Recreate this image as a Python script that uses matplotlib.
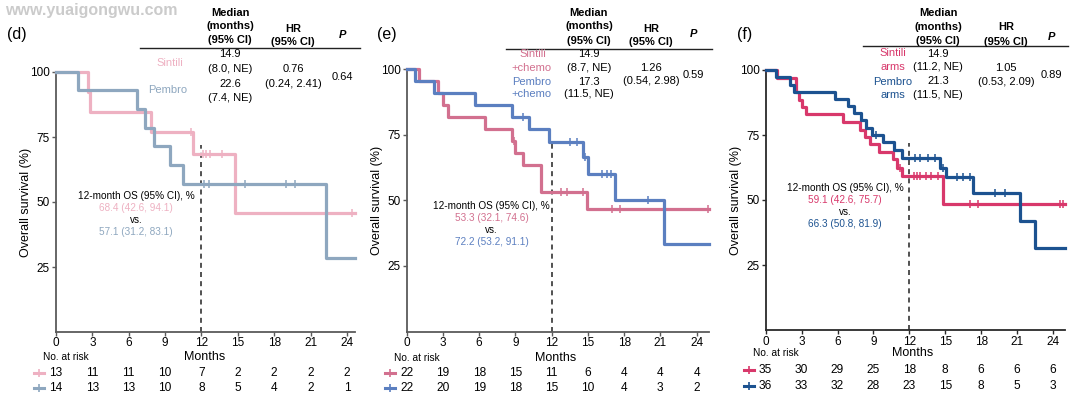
import matplotlib
matplotlib.use("Agg")
import matplotlib.pyplot as plt
from matplotlib.lines import Line2D
import numpy as np

plt.rcParams["font.family"] = ["Liberation Sans", "DejaVu Sans"]

W, H = 1080, 397

# ---------------------------------------------------------------------------
# data
# ---------------------------------------------------------------------------
months = [0, 3, 6, 9, 12, 15, 18, 21, 24]
yticks = [25, 50, 75, 100]

# (d) Sintili vs Pembro
d_sin_t = [0, 2.6, 2.8, 7.8, 11.3, 14.8, 24.7]
d_sin_s = [100, 92.3, 84.6, 76.9, 68.4, 45.6, 45.6]
d_sin_cens = [11.1, 12.1, 12.4, 12.7, 13.7, 24.4]
d_pem_t = [0, 1.8, 6.65, 7.35, 8.05, 9.4, 10.45, 22.3, 24.7]
d_pem_s = [100, 92.9, 85.7, 78.6, 71.4, 64.3, 57.1, 28.6, 28.6]
d_pem_cens = [12.2, 12.65, 15.6, 19.0, 19.7]
d_risk_sin = [13, 11, 11, 10, 7, 2, 2, 2, 2]
d_risk_pem = [14, 13, 13, 10, 8, 5, 4, 2, 1]

# (e) Sintili+chemo vs Pembro+chemo
e_sin_t = [0, 1.05, 2.55, 3.0, 3.45, 6.5, 8.7, 8.95, 9.65, 11.15, 14.9, 25.0]
e_sin_s = [100, 95.5, 90.9, 86.4, 81.8, 77.3, 72.7, 68.2, 63.6, 53.3, 46.7, 46.7]
e_sin_cens = [8.85, 12.8, 13.25, 14.6, 17.0, 17.65, 24.95]
e_pem_t = [0, 0.7, 2.25, 5.65, 8.7, 10.15, 11.8, 14.6, 15.0, 17.25, 21.3, 25.0]
e_pem_s = [100, 95.5, 90.9, 86.4, 81.8, 77.1, 72.2, 66.4, 60.2, 50.2, 33.5, 33.5]
e_pem_cens = [9.6, 13.5, 14.1, 14.8, 16.2, 16.6, 16.95, 20.0]
e_risk_sin = [22, 19, 18, 15, 11, 6, 4, 4, 4]
e_risk_pem = [22, 20, 19, 18, 15, 10, 4, 3, 2]

# (f) Sintili arms vs Pembro arms
f_sin_t = [0, 0.95, 2.55, 2.8, 3.05, 3.4, 6.45, 7.85, 8.3, 8.7, 9.5, 10.6,
           11.0, 11.4, 14.85, 25.0]
f_sin_s = [100, 97.1, 91.4, 88.6, 85.7, 82.9, 80.0, 77.1, 74.3, 71.4, 68.6,
           65.7, 62.4, 59.1, 48.4, 48.4]
f_sin_cens = [11.2, 12.35, 12.65, 12.9, 13.4, 13.85, 14.4, 17.05, 17.7, 24.6, 24.85]
f_pem_t = [0, 0.9, 2.0, 2.4, 5.8, 6.9, 7.4, 8.0, 8.4, 8.85, 9.8, 10.7, 11.4,
           14.55, 15.1, 17.3, 21.25, 22.5, 25.0]
f_pem_s = [100, 97.2, 94.4, 91.7, 88.9, 86.1, 83.3, 80.6, 77.8, 75.0, 72.2,
           69.4, 66.3, 62.5, 58.7, 52.7, 41.9, 31.6, 31.6]
f_pem_cens = [9.2, 12.45, 12.9, 13.6, 14.15, 14.8, 15.95, 16.5, 17.05, 19.15, 20.0]
f_risk_sin = [35, 30, 29, 25, 18, 8, 6, 6, 6]
f_risk_pem = [36, 33, 32, 28, 23, 15, 8, 5, 3]


def px(x, y):
    return x / W, 1 - y / H


def km(ax, t, s, cens, color):
    ax.step(t, s, where="post", color=color, lw=2.3, clip_on=False, zorder=3)
    idx = np.searchsorted(t, cens, side="right") - 1
    ax.plot(cens, np.asarray(s)[idx], ls="none", marker="|", ms=6, mew=1.1,
            color=color, clip_on=False, zorder=4)


fig = plt.figure(figsize=(W / 100, H / 100), dpi=100)

fig.text(*px(5, 11), "www.yuaigongwu.com", fontsize=11.5, fontweight="bold",
         color="#cbcbcb", va="center", ha="left")

panels = [
    dict(label="(d)", lab_x=17, left=56, y0=332, y100=72, ppm=12.12, xmax=24.7,
         spine="#5a5a5a",
         sin=(d_sin_t, d_sin_s, d_sin_cens), pem=(d_pem_t, d_pem_s, d_pem_cens),
         c_sin="#eeb1c2", c_pem="#8ea7bf",
         risk=(d_risk_sin, d_risk_pem), risk_y=(357, 372.7, 388.3), tick_y=343,
         ann_x=136, ann_y=(196, 208, 220, 232),
         ann=("68.4 (42.6, 94.1)", "57.1 (31.2, 83.1)"),
         head=dict(med=230, hr=293, p=342, line=(140, 360, 48), names=[("Sintili", 170, 63), ("Pembro", 168, 90)],
                   vals=[("14.9", 54), ("(8.0, NE)", 69), ("22.6", 84), ("(7.4, NE)", 98)],
                   hr_vals=("0.76", "(0.24, 2.41)"), hr_y=(69, 84), pv="0.64", pv_y=77,
                   top=(13, 26, 40), hr_top=(29, 42), p_y=35)),
    dict(label="(e)", lab_x=387, left=406.7, y0=331.5, y100=69.3, ppm=12.08, xmax=25.0,
         spine="#5a5a5a",
         sin=(e_sin_t, e_sin_s, e_sin_cens), pem=(e_pem_t, e_pem_s, e_pem_cens),
         c_sin="#d2708f", c_pem="#5b7fc0",
         risk=(e_risk_sin, e_risk_pem), risk_y=(358, 373, 388), tick_y=343,
         ann_x=491.7, ann_y=(206, 218, 230, 242),
         ann=("53.3 (32.1, 74.6)", "72.2 (53.2, 91.1)"),
         head=dict(med=589, hr=651, p=693, line=(506, 712, 49),
                   names=[("Sintili", 533, 54), ("+chemo", 531, 68), ("Pembro", 532, 82), ("+chemo", 531, 94)],
                   vals=[("14.9", 54), ("(8.7, NE)", 68), ("17.3", 82), ("(11.5, NE)", 94)],
                   hr_vals=("1.26", "(0.54, 2.98)"), hr_y=(68, 81), pv="0.59", pv_y=75,
                   top=(13, 26, 41), hr_top=(29, 42), p_y=34)),
    dict(label="(f)", lab_x=745, left=765.7, y0=330, y100=70, ppm=11.97, xmax=25.0,
         spine="#2a2a2a",
         sin=(f_sin_t, f_sin_s, f_sin_cens), pem=(f_pem_t, f_pem_s, f_pem_cens),
         c_sin="#d8386b", c_pem="#1c5290",
         risk=(f_risk_sin, f_risk_pem), risk_y=(353, 370, 385.7), tick_y=341.7,
         ann_x=845, ann_y=(188, 200, 212, 224),
         ann=("59.1 (42.6, 75.7)", "66.3 (50.8, 81.9)"),
         head=dict(med=938, hr=1006, p=1051, line=(863, 1068, 46),
                   names=[("Sintili", 893, 53), ("arms", 893, 67), ("Pembro", 893, 82), ("arms", 893, 95)],
                   vals=[("14.9", 54), ("(11.2, NE)", 67), ("21.3", 81), ("(11.5, NE)", 95)],
                   hr_vals=("1.05", "(0.53, 2.09)"), hr_y=(68, 82), pv="0.89", pv_y=75,
                   top=(13, 27, 41), hr_top=(27, 42), p_y=37)),
]

for p in panels:
    width = p["xmax"] * p["ppm"]
    x0, yb = px(p["left"], p["y0"])
    _, yt = px(p["left"], p["y100"])
    ax = fig.add_axes([x0, yb, width / W, yt - yb])
    ax.set_xlim(0, p["xmax"])
    ax.set_ylim(0, 100)
    for side in ("top", "right"):
        ax.spines[side].set_visible(False)
    for side in ("left", "bottom"):
        ax.spines[side].set_color(p["spine"])
        ax.spines[side].set_linewidth(1.3)
    ax.set_xticks(months)
    ax.set_yticks(yticks)
    ax.tick_params(axis="both", length=3, width=1, color=p["spine"], labelsize=8.5, pad=1.5)
    ax.set_xticklabels([])
    ax.patch.set_alpha(0)

    # x tick labels at measured height
    for m in months:
        xf = (p["left"] + m * p["ppm"]) / W
        fig.text(xf, px(0, p["tick_y"])[1], str(m), fontsize=8.5, ha="center", va="center")

    ax.plot([12, 12], [0, 72], ls=(0, (3, 2.5)), color="#333333", lw=1.2, zorder=2)
    km(ax, *p["sin"], p["c_sin"])
    km(ax, *p["pem"], p["c_pem"])

    fig.text(*px(p["lab_x"], 35), p["label"], fontsize=11.5, ha="center", va="center")
    fig.text(*px(p["left"] - 30, (p["y0"] + p["y100"]) / 2), "Overall survival (%)",
             fontsize=9, rotation=90, ha="center", va="center")

    # 12-month OS annotation
    ax_, (ya, yp, yv, yq) = p["ann_x"], p["ann_y"]
    fig.text(*px(ax_, ya), "12-month OS (95% CI), %", fontsize=7.2, ha="center", va="center")
    fig.text(*px(ax_, yp), p["ann"][0], fontsize=7.2, color=p["c_sin"], ha="center", va="center")
    fig.text(*px(ax_, yv), "vs.", fontsize=7.2, ha="center", va="center")
    fig.text(*px(ax_, yq), p["ann"][1], fontsize=7.2, color=p["c_pem"], ha="center", va="center")

    # risk table
    ry_lab, ry1, ry2 = p["risk_y"]
    fig.text(*px(p["left"] + 10, ry_lab), "No. at risk", fontsize=7.3, ha="center", va="center")
    fig.text(*px(p["left"] + 12.3 * p["ppm"], ry_lab), "Months", fontsize=9, ha="center", va="center")
    for row, ry, col in ((p["risk"][0], ry1, p["c_sin"]), (p["risk"][1], ry2, p["c_pem"])):
        for m, n in zip(months, row):
            fig.text(*px(p["left"] + m * p["ppm"], ry), str(n), fontsize=8.6, ha="center", va="center")
        mx = p["left"] - 17
        xa, ya2 = px(mx - 5, ry)
        xb, _ = px(mx + 5, ry)
        fig.add_artist(Line2D([xa, xb], [ya2, ya2], color=col, lw=2.2, transform=fig.transFigure))
        xc, yc = px(mx, ry)
        fig.add_artist(Line2D([xc], [yc], marker="|", ms=6, mew=1.2, color=col, ls="none",
                              transform=fig.transFigure))

    # header table
    hd = p["head"]
    for txt, yy in zip(("Median", "(months)", "(95% CI)"), hd["top"]):
        fig.text(*px(hd["med"], yy), txt, fontsize=8, fontweight="bold", ha="center", va="center")
    for txt, yy in zip(("HR", "(95% CI)"), hd["hr_top"]):
        fig.text(*px(hd["hr"], yy), txt, fontsize=8, fontweight="bold", ha="center", va="center")
    fig.text(*px(hd["p"], hd["p_y"]), "P", fontsize=8, fontweight="bold", style="italic",
             ha="center", va="center")
    lx0, lx1, ly = hd["line"]
    a, b = px(lx0, ly)
    c, _ = px(lx1, ly)
    fig.add_artist(Line2D([a, c], [b, b], color="#222222", lw=1.0, transform=fig.transFigure))
    n_names = len(hd["names"])
    for i, (txt, xx, yy) in enumerate(hd["names"]):
        col = p["c_sin"] if i < n_names / 2 else p["c_pem"]
        fig.text(*px(xx, yy), txt, fontsize=8, color=col, ha="center", va="center")
    for txt, yy in hd["vals"]:
        fig.text(*px(hd["med"], yy), txt, fontsize=8, ha="center", va="center")
    for txt, yy in zip(hd["hr_vals"], hd["hr_y"]):
        fig.text(*px(hd["hr"], yy), txt, fontsize=8, ha="center", va="center")
    fig.text(*px(hd["p"], hd["pv_y"]), hd["pv"], fontsize=8, ha="center", va="center")

fig.savefig("out.png", dpi=100)
